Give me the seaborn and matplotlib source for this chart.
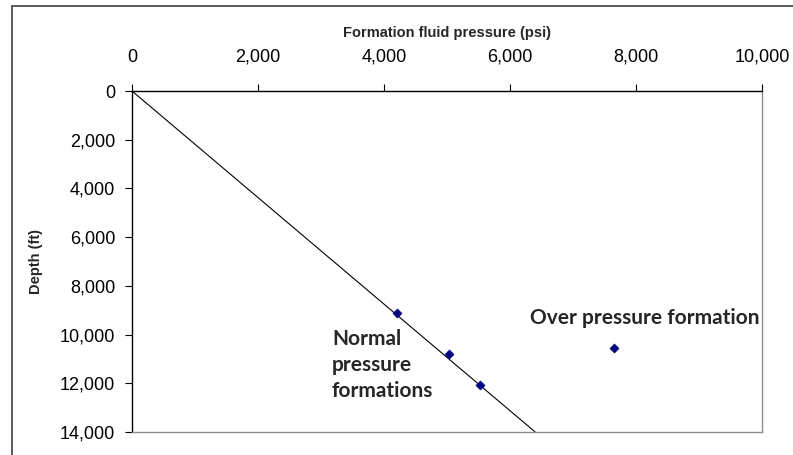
import numpy as np
import pandas as pd
import seaborn as sns
import matplotlib.pyplot as plt
from matplotlib.patches import Rectangle
from matplotlib.ticker import FuncFormatter

# Normal pressure gradient line (psi vs ft)
line_pressure = [0, 6400]
line_depth = [0, 14000]

# Measured formation pressures
point_pressure = [4200, 5030, 5520, 7650]
point_depth = [9100, 10800, 12070, 10550]

x_ticks = [0, 2000, 4000, 6000, 8000, 10000]
y_ticks = [0, 2000, 4000, 6000, 8000, 10000, 12000, 14000]

sns.set_style("white")
plt.rcParams['font.family'] = ['Liberation Sans', 'DejaVu Sans']

fig = plt.figure(figsize=(7.93, 4.55), dpi=100)
ax = fig.add_axes([132 / 793, 1 - 432 / 455, 630 / 793, 341 / 455])

df_line = pd.DataFrame({'pressure': line_pressure, 'depth': line_depth})
df_pts = pd.DataFrame({'pressure': point_pressure, 'depth': point_depth})

sns.lineplot(data=df_line, x='pressure', y='depth', ax=ax, color='black',
             linewidth=0.8, sort=False)
sns.scatterplot(data=df_pts, x='pressure', y='depth', ax=ax, marker='D',
                s=22, color='#000080', edgecolor='#000080', zorder=3)

ax.set_xlim(0, 10000)
ax.set_ylim(14000, 0)
ax.set_xticks(x_ticks)
ax.set_yticks(y_ticks)
fmt = FuncFormatter(lambda v, p: f"{int(v):,}")
ax.xaxis.set_major_formatter(fmt)
ax.yaxis.set_major_formatter(fmt)

ax.xaxis.tick_top()
ax.xaxis.set_label_position('top')
ax.tick_params(axis='x', direction='out', length=5, width=0.8, pad=13,
               labelsize=13, top=True, bottom=False, colors='black')
ax.tick_params(axis='y', direction='out', length=5, width=0.8, pad=7,
               labelsize=13, left=True, colors='black')

ax.set_xlabel('Formation fluid pressure (psi)', fontsize=10.5, fontweight='bold',
              labelpad=9)
ax.set_ylabel('Depth (ft)', fontsize=10.5, fontweight='bold', labelpad=12)

for side in ['top', 'left']:
    ax.spines[side].set_color('black')
    ax.spines[side].set_linewidth(1.0)
for side in ['right', 'bottom']:
    ax.spines[side].set_color('#8c8c8c')
    ax.spines[side].set_linewidth(1.0)

ax.text(3175, 11250, 'Normal\npressure\nformations', fontsize=15,
        fontweight='bold', family=['Lato', 'DejaVu Sans'], ha='left',
        va='center', linespacing=1.38)
ax.text(6317, 9320, 'Over pressure formation', fontsize=15,
        fontweight='bold', family=['Lato', 'DejaVu Sans'], ha='left',
        va='center')

# outer chart frame
fig.patches.append(Rectangle((12 / 793, -0.2), 1.1, 1 - 6 / 455 + 0.2,
                             transform=fig.transFigure, fill=False,
                             edgecolor='#404040', linewidth=1.2))

fig.savefig('out.png', dpi=100)
